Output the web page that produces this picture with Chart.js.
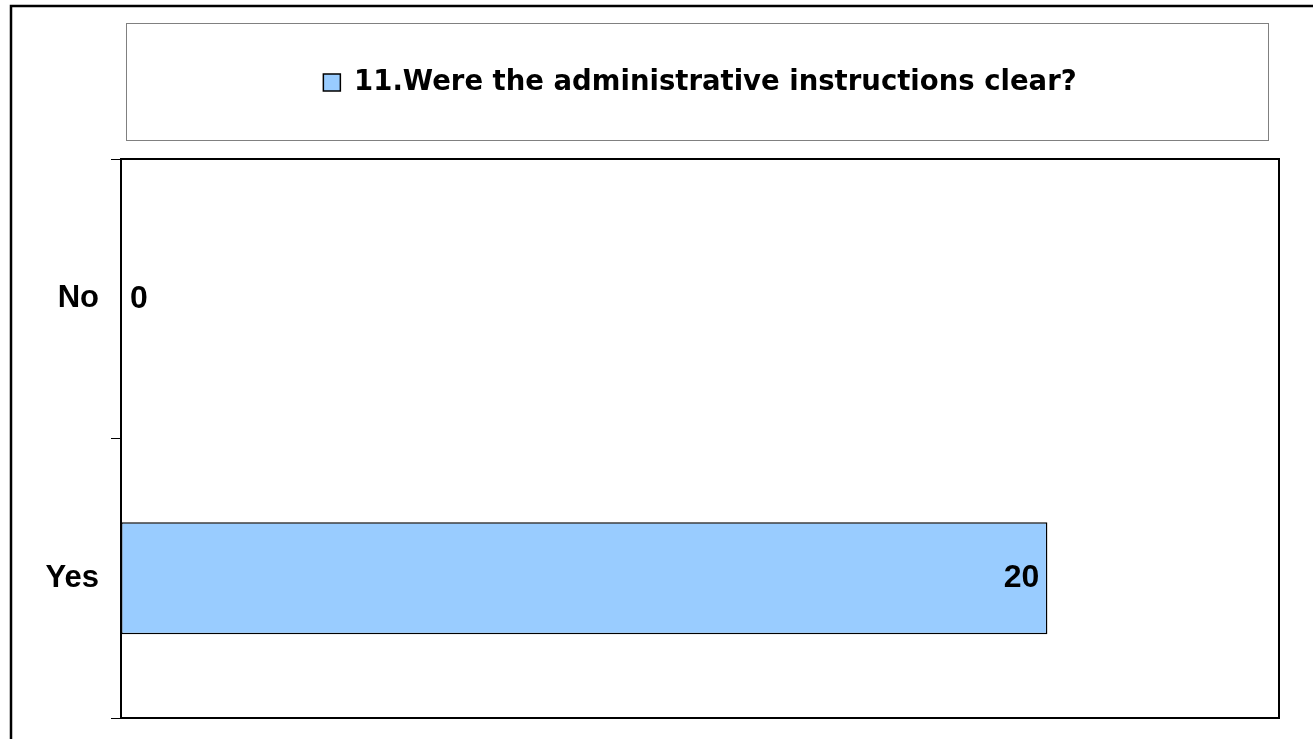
<!DOCTYPE html>
<html lang="en">
<head>
    <meta charset="UTF-8">
    <title>Chart</title>
    <script src="https://cdn.jsdelivr.net/npm/chart.js"></script>
    <style type="text/css">
        body {
            margin: 0;
            background: #ffffff;
        }

        #wrap {
            position: relative;
            width: 1313px;
            height: 739px;
        }
    </style>
</head>
<body>
<div id="wrap">
    <canvas id="myChart"></canvas>
</div>

<script>
  // data
  var categories = ['No', 'Yes'];
  var answers = [0, 20];
  var seriesName = '11.Were the administrative instructions clear?';
  var axisMax = 25;

  // outer frame, legend box and plot frame
  var framePlugin = {
    id: 'frame',
    beforeDraw: function (chart) {
      var ctx = chart.ctx;
      ctx.save();
      ctx.fillStyle = '#ffffff';
      ctx.fillRect(0, 0, chart.width, chart.height);
      ctx.strokeStyle = '#000000';
      ctx.lineWidth = 2.5;
      ctx.strokeRect(11, 6, chart.width + 20, chart.height + 20);

      var area = chart.chartArea;
      ctx.strokeStyle = '#808080';
      ctx.lineWidth = 1;
      ctx.strokeRect(area.left + 5.5, chart.legend.top + 23.5, area.right - area.left - 16, area.top - chart.legend.top - 42);
      ctx.restore();
    },
    afterDraw: function (chart) {
      var ctx = chart.ctx;
      var area = chart.chartArea;
      ctx.save();
      ctx.strokeStyle = '#000000';
      ctx.lineWidth = 2;
      ctx.strokeRect(area.left, area.top, area.right - area.left, area.bottom - area.top);
      ctx.restore();
    }
  };

  // value labels: inside the end of long bars, just past the base otherwise
  var valueLabels = {
    id: 'valueLabels',
    afterDatasetsDraw: function (chart) {
      var ctx = chart.ctx;
      var meta = chart.getDatasetMeta(0);
      ctx.save();
      ctx.font = 'bold 32px "Liberation Sans", Arial, sans-serif';
      ctx.fillStyle = '#000000';
      ctx.textBaseline = 'middle';
      meta.data.forEach(function (bar, i) {
        var text = String(answers[i]);
        var w = ctx.measureText(text).width;
        if (bar.x - bar.base > w + 20) {
          ctx.textAlign = 'right';
          ctx.fillText(text, bar.x - 8, bar.y);
        } else {
          ctx.textAlign = 'left';
          ctx.fillText(text, bar.x + 9, bar.y);
        }
      });
      ctx.restore();
    }
  };

  var ctx = document.getElementById('myChart').getContext('2d');

  var myChart = new Chart(ctx, {
    type: 'bar',
    data: {
      labels: categories,
      datasets: [{
        label: seriesName,
        data: answers,
        backgroundColor: '#99CCFF',
        borderColor: '#000000',
        borderWidth: 1.5,
        borderSkipped: false,
        categoryPercentage: 1,
        barPercentage: 0.4
      }]
    },
    plugins: [framePlugin, valueLabels],
    options: {
      indexAxis: 'y',
      responsive: true,
      maintainAspectRatio: false,
      animation: false,
      layout: {
        padding: {left: 0, top: 0, right: 34, bottom: 21}
      },
      plugins: {
        tooltip: {enabled: false},
        legend: {
          display: true,
          position: 'top',
          fullSize: false,
          labels: {
            boxWidth: 17,
            boxHeight: 17,
            padding: 68.75,
            color: '#000000',
            font: {family: '"DejaVu Sans", sans-serif', size: 27.5, weight: 'bold'}
          }
        }
      },
      scales: {
        x: {
          position: 'top',
          min: 0,
          max: axisMax,
          grid: {display: false},
          border: {display: false},
          ticks: {display: false},
          afterFit: function (scale) {
            scale.height = 52.75;
          }
        },
        y: {
          grid: {
            display: true,
            drawOnChartArea: false,
            drawTicks: true,
            tickLength: 10,
            color: '#000000',
            lineWidth: 1
          },
          border: {display: false},
          ticks: {
            color: '#000000',
            padding: 12,
            font: {family: '"Liberation Sans", Arial, sans-serif', size: 31, weight: 'bold'}
          },
          afterFit: function (scale) {
            scale.width = 121;
            scale.paddingTop = 0;
            scale.paddingBottom = 0;
          }
        }
      }
    }
  });
</script>
</body>
</html>
